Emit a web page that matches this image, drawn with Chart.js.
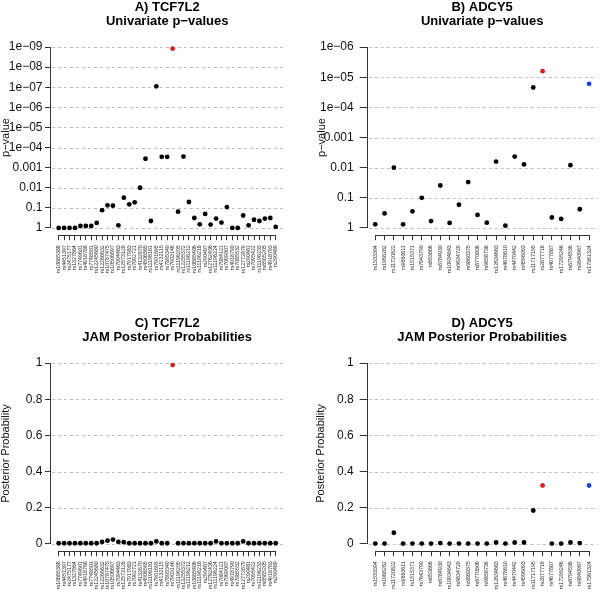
<!DOCTYPE html>
<html>
<head>
<meta charset="utf-8">
<script src="https://cdn.jsdelivr.net/npm/chart.js@4/dist/chart.umd.min.js"></script>
<style>
  html, body { margin: 0; padding: 0; background: #ffffff; }
  #wrap { position: relative; width: 600px; height: 593px; background: #ffffff; overflow: hidden; }
  .panel { position: absolute; }
</style>
</head>
<body>
<div id="wrap">
  <div class="panel" style="left:0;top:0;width:300px;height:316px"><canvas id="cA"></canvas></div>
  <div class="panel" style="left:300px;top:0;width:300px;height:316px"><canvas id="cB"></canvas></div>
  <div class="panel" style="left:0;top:316px;width:300px;height:277px"><canvas id="cC"></canvas></div>
  <div class="panel" style="left:300px;top:316px;width:300px;height:277px"><canvas id="cD"></canvas></div>
</div>
<script>
// ---------------- DATA ----------------
const tcfSnps = [
  'rs10885388','rs4451397','rs2475177','rs1327864','rs7749601','rs4918788','rs7748501','rs12245680',
  'rs12266632','rs10787475','rs10506697','rs7094463','rs12573128','rs7917983','rs7092721','rs4132670',
  'rs4506565','rs11196181','rs7901695','rs4132115','rs7895340','rs7903146','rs11196205','rs12255372',
  'rs11196212','rs10885406','rs11196218','rs290487','rs12762436','rs11196224','rs7084121','rs7069007',
  'rs4918790','rs7085532','rs12772879','rs290481','rs7095422','rs11196233','rs6585205','rs4918793',
  'rs290489'
];
const tcfPvalues = [
  1, 1, 1, 1, 0.8, 0.8, 0.8, 0.56,
  0.13, 0.075, 0.078, 0.74, 0.031, 0.067, 0.053, 0.01,
  3.6e-4, 0.45, 9e-8, 2.9e-4, 2.9e-4, 1.2e-9, 0.155, 2.8e-4,
  0.051, 0.32, 0.66, 0.2, 0.68, 0.34, 0.54, 0.091,
  1, 1, 0.24, 0.74, 0.39, 0.45, 0.34, 0.32,
  0.89
];
const tcfPosterior = [
  0.004, 0.004, 0.004, 0.004, 0.004, 0.004, 0.004, 0.004,
  0.011, 0.018, 0.024, 0.011, 0.010, 0.004, 0.004, 0.004,
  0.004, 0.004, 0.014, 0.004, 0.004, 0.989, 0.004, 0.004,
  0.004, 0.004, 0.004, 0.004, 0.004, 0.014, 0.004, 0.004,
  0.004, 0.004, 0.014, 0.004, 0.004, 0.004, 0.004, 0.004,
  0.004
];
const adcySnps = [
  'rs1533394','rs1968282','rs11720822','rs9860611','rs1515371','rs7643790','rs653866','rs6784930',
  'rs10934643','rs9834729','rs9860375','rs6770806','rs9858736','rs12634663','rs4678610','rs4470442',
  'rs4596093','rs11717195','rs2877716','rs4677887','rs17295246','rs6794536','rs9840967','rs17361324'
];
const adcyPvalues = [
  0.76, 0.33, 0.01, 0.76, 0.28, 0.1, 0.59, 0.039,
  0.68, 0.17, 0.03, 0.37, 0.67, 0.0063, 0.84, 0.0043,
  0.0078, 2.2e-5, 6.3e-6, 0.45, 0.5, 0.0083, 0.24, 1.66e-5
];
const adcyPosterior = [
  0.002, 0.002, 0.062, 0.002, 0.002, 0.002, 0.002, 0.005,
  0.002, 0.002, 0.002, 0.002, 0.002, 0.008, 0.002, 0.008,
  0.008, 0.185, 0.323, 0.002, 0.002, 0.008, 0.005, 0.323
];
const tcfPTickLabels = ['1','0.1','0.01','0.001','1e\u221204','1e\u221205','1e\u221206','1e\u221207','1e\u221208','1e\u221209'];
const adcyPTickLabels = ['1','0.1','0.01','0.001','1e\u221204','1e\u221205','1e\u221206'];
const probTickLabels = ['0','0.2','0.4','0.6','0.8','1'];
const redSnps = ['rs7903146','rs2877716'];
const blueSnps = ['rs17361324'];

// ---------------- STYLE ----------------
const FONT = "'Liberation Sans', Arial, Helvetica, sans-serif";
const RED = '#D61F1F';
const BLUE = '#1F3FE0';
function colorFor(snp) {
  if (redSnps.includes(snp)) return RED;
  if (blueSnps.includes(snp)) return BLUE;
  return '#000000';
}

function makePanel(id, cfg) {
  const n = cfg.snps.length;
  const yVals = cfg.values.map(cfg.transform);
  const pts = yVals.map((y, i) => ({ x: i + 1, y: y }));
  const yTickVals = cfg.tickValues;
  const yLo = yTickVals[0], yHi = yTickVals[yTickVals.length - 1];
  const ySpan = yHi - yLo;
  const xSpan = n - 1;

  function drawGuides(chart) {
    const ctx = chart.ctx;
    const xs = chart.scales.x, ys = chart.scales.y;
    const ca = chart.chartArea;
    ctx.save();
    ctx.lineWidth = 1;
    ctx.strokeStyle = '#BDBDBD';
    ctx.setLineDash([3, 3]);
    ctx.beginPath();
    for (let k = 0; k < yTickVals.length; k++) {
      const py = Math.round(ys.getPixelForValue(yTickVals[k])) + 0.5;
      ctx.moveTo(ca.left + 2, py);
      ctx.lineTo(ca.right, py);
    }
    ctx.stroke();
    ctx.setLineDash([]);
    ctx.strokeStyle = '#333333';
    ctx.beginPath();
    const lx = Math.round(ca.left) + 0.5;
    ctx.moveTo(lx, ys.getPixelForValue(yLo));
    ctx.lineTo(lx, ys.getPixelForValue(yHi));
    const by = Math.round(ca.bottom) + 0.5;
    ctx.moveTo(xs.getPixelForValue(1), by);
    ctx.lineTo(xs.getPixelForValue(n), by);
    ctx.stroke();
    ctx.restore();
  }

  const axisPlugin = {
    id: 'rstyle' + id,
    beforeDraw(chart) { drawGuides(chart); },
    afterDraw(chart) {
      const ctx = chart.ctx;
      const ca = chart.chartArea;
      const cx = (ca.left + ca.right) / 2;
      ctx.save();
      ctx.fillStyle = '#000000';
      ctx.font = 'bold 13px ' + FONT;
      ctx.textAlign = 'center';
      ctx.textBaseline = 'alphabetic';
      ctx.fillText(cfg.title1, cx, 10.5);
      ctx.fillText(cfg.title2, cx, 25);
      ctx.restore();
    }
  };

  return new Chart(document.getElementById(id), {
    type: 'scatter',
    data: {
      datasets: [{
        data: pts,
        pointRadius: 2.4,
        pointHoverRadius: 2.4,
        pointBorderWidth: 0,
        pointBackgroundColor: cfg.snps.map(colorFor),
        pointBorderColor: cfg.snps.map(colorFor),
        clip: false
      }]
    },
    options: {
      responsive: true,
      maintainAspectRatio: false,
      animation: false,
      devicePixelRatio: 1,
      layout: { padding: { top: 39.8, right: cfg.rightPad, bottom: 0, left: 0 } },
      plugins: { legend: { display: false }, tooltip: { enabled: false }, title: { display: false } },
      scales: {
        x: {
          type: 'linear',
          min: 1 - 0.04 * xSpan,
          max: n + 0.04 * xSpan,
          afterBuildTicks: s => { s.ticks = cfg.snps.map((_, i) => ({ value: i + 1 })); },
          afterFit: s => { s.height = cfg.xHeight; s.paddingLeft = 0; s.paddingRight = 0; s.paddingTop = 0; s.paddingBottom = 0; },
          border: { display: false },
          grid: { drawOnChartArea: false, drawTicks: true, tickLength: 5, tickColor: '#333333', color: '#333333' },
          ticks: {
            autoSkip: false, maxRotation: 90, minRotation: 90, padding: 5,
            font: { size: 5.3, family: FONT }, color: '#333333',
            callback: (v, i) => cfg.snps[i]
          }
        },
        y: {
          type: 'linear',
          min: yLo - 0.04 * ySpan,
          max: yHi + 0.04 * ySpan,
          afterBuildTicks: s => { s.ticks = yTickVals.map(v => ({ value: v })); },
          afterFit: s => { s.width = cfg.leftWidth; s.paddingLeft = 0; s.paddingRight = 0; s.paddingTop = 0; s.paddingBottom = 0; },
          border: { display: false },
          grid: { drawOnChartArea: false, drawTicks: true, tickLength: cfg.yTickLen, tickColor: '#333333', color: '#333333' },
          ticks: {
            padding: cfg.yTickPad,
            font: { size: 12, family: FONT }, color: '#111111',
            callback: (v, i) => cfg.tickLabels[i]
          },
          title: {
            display: true, text: cfg.yTitle, color: '#111111',
            font: { size: 11, family: FONT, lineHeight: 1 },
            padding: { top: cfg.yTitlePad, bottom: 0 }
          }
        }
      }
    },
    plugins: [axisPlugin]
  });
}

const negLog10 = p => -Math.log10(p);
const ident = v => v;

makePanel('cA', {
  title1: 'A) TCF7L2', title2: 'Univariate p\u2212values',
  snps: tcfSnps, values: tcfPvalues, transform: negLog10,
  tickValues: tcfPTickLabels.map((_, i) => i), tickLabels: tcfPTickLabels,
  yTitle: 'p\u2212value', yTitlePad: 0,
  leftWidth: 50, rightPad: 15.6, xHeight: 316 - 235.2, yTickLen: 5, yTickPad: 2.5
});
makePanel('cB', {
  title1: 'B) ADCY5', title2: 'Univariate p\u2212values',
  snps: adcySnps, values: adcyPvalues, transform: negLog10,
  tickValues: adcyPTickLabels.map((_, i) => i), tickLabels: adcyPTickLabels,
  yTitle: 'p\u2212value', yTitlePad: 16,
  leftWidth: 66.7, rightPad: 0, xHeight: 316 - 235.2, yTickLen: 7, yTickPad: 6
});
makePanel('cC', {
  title1: 'C) TCF7L2', title2: 'JAM Posterior Probabilities',
  snps: tcfSnps, values: tcfPosterior, transform: ident,
  tickValues: probTickLabels.map(Number), tickLabels: probTickLabels,
  yTitle: 'Posterior Probability', yTitlePad: 0,
  leftWidth: 50, rightPad: 15.6, xHeight: 277 - 235.2, yTickLen: 5, yTickPad: 2.5
});
makePanel('cD', {
  title1: 'D) ADCY5', title2: 'JAM Posterior Probabilities',
  snps: adcySnps, values: adcyPosterior, transform: ident,
  tickValues: probTickLabels.map(Number), tickLabels: probTickLabels,
  yTitle: 'Posterior Probability', yTitlePad: 15.5,
  leftWidth: 66.7, rightPad: 0, xHeight: 277 - 235.2, yTickLen: 7, yTickPad: 6
});
</script>
</body>
</html>
